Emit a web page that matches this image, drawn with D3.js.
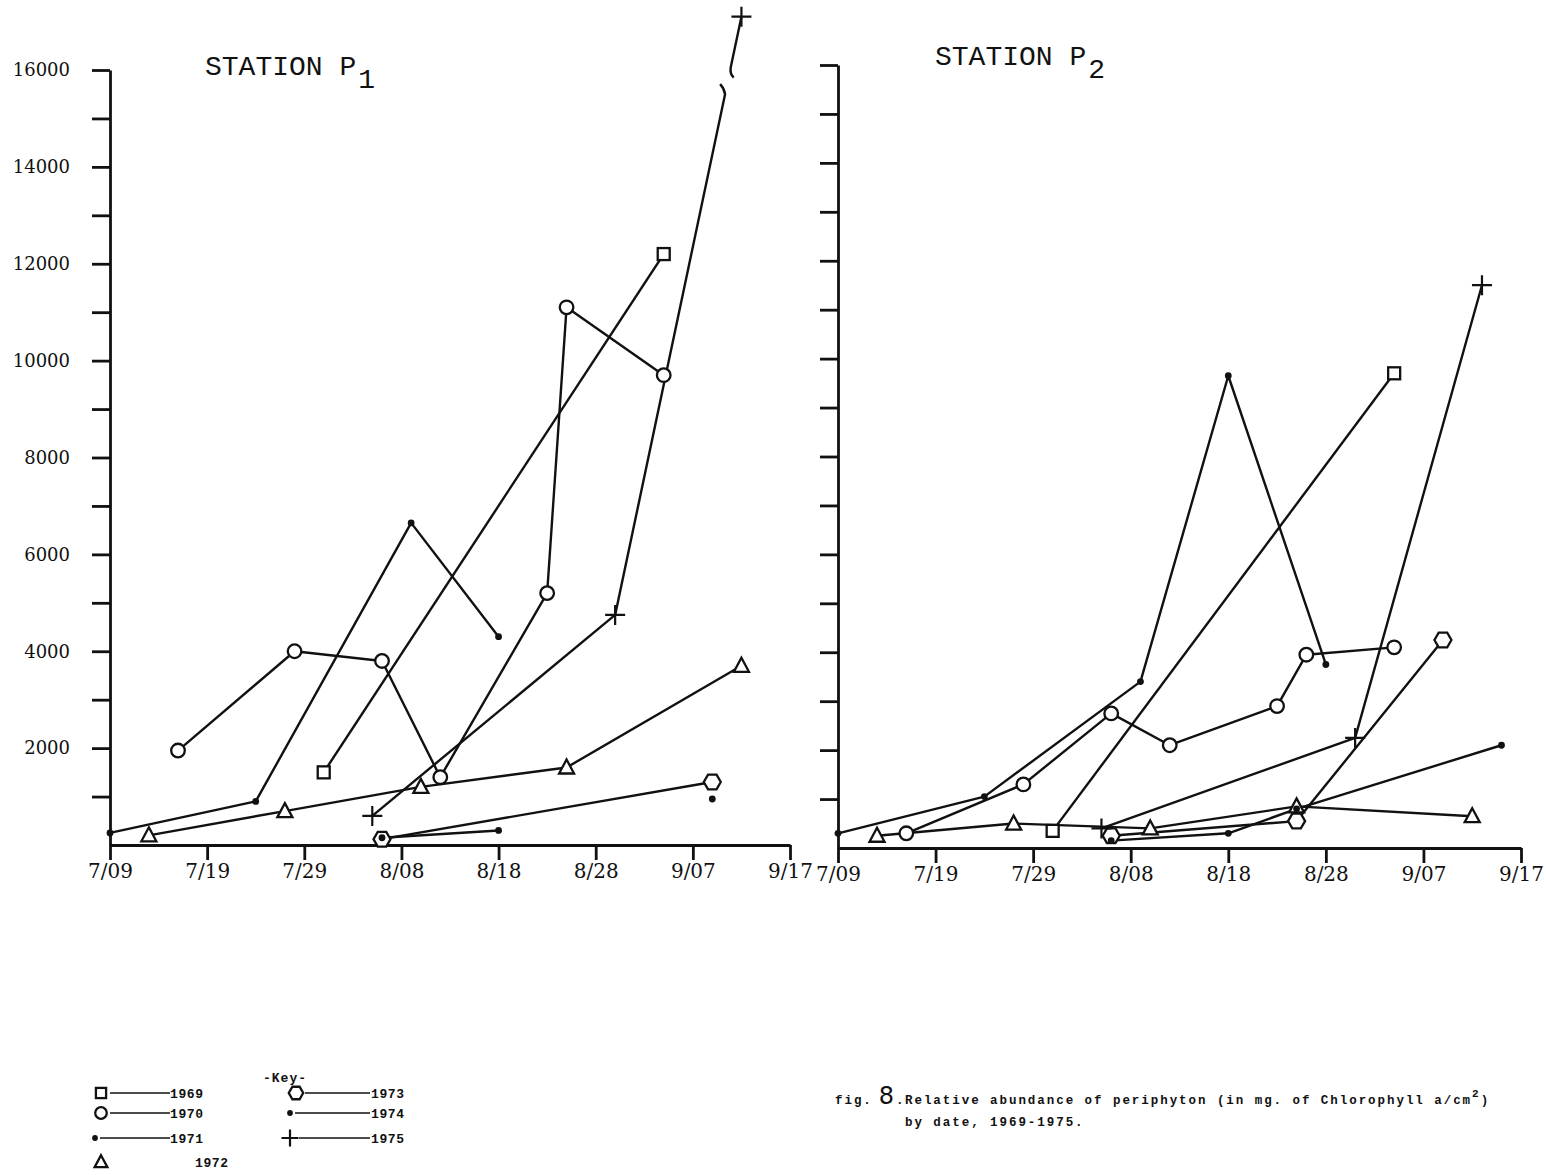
<!DOCTYPE html>
<html>
<head>
<meta charset="utf-8">
<script src="https://cdn.jsdelivr.net/npm/d3@7"></script>
<style>
  body { margin: 0; background: #fff; }
  svg { display: block; }
</style>
</head>
<body>
<svg id="chart" width="1546" height="1175"></svg>
<script>
// Periphyton abundance (mg chlorophyll a / cm^2) by sampling date, 1969-1975.
// Each series is a list of [month/day, value]; null marks a break in the line.

// ---- Station P1 ----
const p1_1969 = [["07/31", 1500], ["09/04", 12200]];
const p1_1970 = [["07/16", 1950], ["07/28", 4000], ["08/06", 3800], ["08/12", 1400],
                 ["08/23", 5200], ["08/25", 11100], ["09/04", 9700]];
const p1_1971 = [["07/09", 250], ["07/24", 900], ["08/09", 6650], ["08/18", 4300]];
const p1_1972 = [["07/13", 200], ["07/27", 700], ["08/10", 1200], ["08/25", 1600], ["09/12", 3700]];
const p1_1973 = [["08/06", 120], ["09/09", 1300]];
const p1_1974 = [["08/06", 150], ["08/18", 300], null, ["09/09", 950]];
const p1_1975 = [["08/05", 600], ["08/30", 4750], ["09/12", 17100]];
// the last 1975 segment runs off the scale; it is drawn with a break between these values
const p1BreakFrom = 15500;
const p1BreakTo = 16050;

// ---- Station P2 ----
const p2_1969 = [["07/31", 350], ["09/04", 9700]];
const p2_1970 = [["07/16", 300], ["07/28", 1300], ["08/06", 2750], ["08/12", 2100],
                 ["08/23", 2900], ["08/26", 3950], ["09/04", 4100]];
const p2_1971 = [["07/09", 300], ["07/24", 1050], ["08/09", 3400], ["08/18", 9650], ["08/28", 3750]];
const p2_1972 = [["07/13", 250], ["07/27", 500], ["08/10", 400], ["08/25", 850], ["09/12", 650]];
const p2_1973 = [["08/06", 250], ["08/25", 550], ["09/09", 4250]];
const p2_1974 = [["08/06", 150], ["08/18", 300], ["08/25", 800], ["09/15", 2100]];
const p2_1975 = [["08/05", 400], ["08/31", 2250], ["09/13", 11500]];

// ---- axes and key ----
const years = ["1969", "1970", "1971", "1972", "1973", "1974", "1975"];
const yearSymbols = ["square", "circle", "dot", "triangle", "hexagon", "dot", "plus"];
const xTickDates = ["07/09", "07/19", "07/29", "08/08", "08/18", "08/28", "09/07", "09/17"];
const xTickLabels = ["7/09", "7/19", "7/29", "8/08", "8/18", "8/28", "9/07", "9/17"];
const yTicks = [1000, 2000, 3000, 4000, 5000, 6000, 7000, 8000,
                9000, 10000, 11000, 12000, 13000, 14000, 15000, 16000];
const yTickLabels = [2000, 4000, 6000, 8000, 10000, 12000, 14000, 16000];
const stationNames = ["1", "2"];

const INK = "#111";
const parseMD = d3.timeParse("%Y/%m/%d");
const toDate = md => parseMD("1970/" + md);

const svg = d3.select("#chart");

const panels = [
  { sub: stationNames[0], left: 110, right: 790, bottom: 845, top: 70, labels: true,
    titleX: 205, titleY: 75,
    series: [p1_1969, p1_1970, p1_1971, p1_1972, p1_1973, p1_1974, p1_1975] },
  { sub: stationNames[1], left: 838, right: 1521, bottom: 848, top: 65, labels: false,
    titleX: 935, titleY: 65,
    series: [p2_1969, p2_1970, p2_1971, p2_1972, p2_1973, p2_1974, p2_1975] }
];

function drawMarker(g, kind, x, y, s = 1) {
  const sw = 2.3;
  if (kind === "square") {
    g.append("rect").attr("x", x - 6 * s).attr("y", y - 6 * s)
      .attr("width", 12 * s).attr("height", 12 * s)
      .attr("fill", "#fff").attr("stroke", INK).attr("stroke-width", sw);
  } else if (kind === "circle") {
    g.append("circle").attr("cx", x).attr("cy", y).attr("r", 6.8 * s)
      .attr("fill", "#fff").attr("stroke", INK).attr("stroke-width", sw);
  } else if (kind === "dot") {
    g.append("circle").attr("cx", x).attr("cy", y).attr("r", 3.4 * s).attr("fill", INK);
  } else if (kind === "triangle") {
    const p = [[x, y - 8 * s], [x + 7.5 * s, y + 6 * s], [x - 7.5 * s, y + 6 * s]];
    g.append("path").attr("d", "M" + p.join("L") + "Z")
      .attr("fill", "#fff").attr("stroke", INK).attr("stroke-width", sw);
  } else if (kind === "hexagon") {
    const r = 8.5 * s;
    const p = d3.range(6).map(i => [x + r * Math.cos(i * Math.PI / 3), y + r * Math.sin(i * Math.PI / 3)]);
    g.append("path").attr("d", "M" + p.join("L") + "Z")
      .attr("fill", "#fff").attr("stroke", INK).attr("stroke-width", sw);
  } else if (kind === "plus") {
    const a = 10 * s;
    g.append("path").attr("d", `M${x - a},${y}H${x + a}M${x},${y - a}V${y + a}`)
      .attr("stroke", INK).attr("stroke-width", 2.2).attr("fill", "none");
  }
}

panels.forEach((P, pi) => {
  const x = d3.scaleTime().domain([toDate("07/09"), toDate("09/17")]).range([P.left, P.right]);
  const y = d3.scaleLinear().domain([0, 16000]).range([P.bottom, P.top]);
  const g = svg.append("g");

  // x axis
  const xAxis = d3.axisBottom(x)
    .tickValues(xTickDates.map(toDate))
    .tickFormat((d, i) => xTickLabels[i])
    .tickSize(15).tickSizeOuter(0).tickPadding(4);
  const gx = g.append("g").attr("transform", `translate(0,${P.bottom})`).call(xAxis);
  gx.attr("font-family", "'DejaVu Serif', serif").attr("font-size", 20);
  gx.selectAll("path, line").attr("stroke", INK).attr("stroke-width", 2.8);
  gx.selectAll("text").attr("fill", INK);

  // y axis
  const yAxis = d3.axisLeft(y)
    .tickValues(yTicks)
    .tickFormat(d => (P.labels && yTickLabels.includes(d)) ? String(d) : "")
    .tickSize(18).tickSizeOuter(0).tickPadding(22);
  const gy = g.append("g").attr("transform", `translate(${P.left},0)`).call(yAxis);
  gy.attr("font-family", "'DejaVu Serif', serif").attr("font-size", 18);
  gy.selectAll("path, line").attr("stroke", INK).attr("stroke-width", 2.8);
  gy.selectAll("text").attr("fill", INK);

  // station title
  const t = g.append("text").attr("x", P.titleX).attr("y", P.titleY)
    .attr("font-family", "'Liberation Mono', monospace").attr("font-size", 28).attr("fill", INK);
  t.append("tspan").text("STATION P");
  t.append("tspan").attr("dx", 2).attr("dy", 13).text(P.sub);

  const line = d3.line()
    .defined(d => d !== null)
    .x(d => x(toDate(d[0])))
    .y(d => y(d[1]));

  const lineG = g.append("g").attr("fill", "none").attr("stroke", INK)
    .attr("stroke-width", 2.4).attr("stroke-linejoin", "round");
  const markG = g.append("g");

  P.series.forEach((data, si) => {
    const broken = pi === 0 && si === 6;
    if (!broken) {
      lineG.append("path").attr("d", line(data));
    } else {
      // draw up to the last point, then a broken segment past the top of the scale
      const head = data.slice(0, data.length - 1);
      lineG.append("path").attr("d", line(head));
      const a = data[data.length - 2], b = data[data.length - 1];
      const ax = x(toDate(a[0])), ay = y(a[1]);
      const bx = x(toDate(b[0])), by = y(b[1]);
      const at = v => {
        const f = (v - a[1]) / (b[1] - a[1]);
        return [ax + f * (bx - ax), ay + f * (by - ay)];
      };
      const lo = at(p1BreakFrom), hi = at(p1BreakTo);
      lineG.append("path")
        .attr("d", `M${ax},${ay}L${lo[0]},${lo[1]}Q${lo[0] - 1},${lo[1] - 6} ${lo[0] - 5},${lo[1] - 10}`);
      lineG.append("path")
        .attr("d", `M${bx},${by}L${hi[0]},${hi[1]}Q${hi[0] - 1},${hi[1] + 6} ${hi[0] + 3},${hi[1] + 10}`);
    }
    data.forEach(d => {
      if (d === null) return;
      drawMarker(markG, yearSymbols[si], x(toDate(d[0])), y(d[1]));
    });
  });
});

// ---- key ----
const key = svg.append("g")
  .attr("font-family", "'Liberation Mono', monospace")
  .attr("font-weight", "bold").attr("font-size", 13).attr("fill", INK);
key.append("text").attr("x", 263).attr("y", 1082).attr("letter-spacing", 1).text("-Key-");

const keyRows = [1093, 1113, 1138, 1162];
years.forEach((yr, i) => {
  const col = i < 4 ? 0 : 1;
  const row = i < 4 ? i : i - 4;
  const cy = keyRows[row];
  const sx = col === 0 ? 101 : 296;
  const kind = yearSymbols[i];
  const gx0 = kind === "dot" ? sx - 6 : (kind === "plus" ? sx - 6 : sx);
  drawMarker(key, kind, gx0, cy, 0.85);
  if (yr !== "1972") {
    key.append("line")
      .attr("x1", gx0 + (kind === "dot" ? 5 : 9)).attr("x2", col === 0 ? 170 : 370)
      .attr("y1", cy).attr("y2", cy)
      .attr("stroke", INK).attr("stroke-width", 1.4);
    key.append("text").attr("x", col === 0 ? 170 : 371).attr("y", cy + 4.5)
      .attr("letter-spacing", 0.6).text(yr);
  } else {
    key.append("text").attr("x", 195).attr("y", cy + 4.5).attr("letter-spacing", 0.6).text(yr);
  }
});

// ---- caption ----
const cap = svg.append("g")
  .attr("font-family", "'Liberation Mono', monospace")
  .attr("font-weight", "bold").attr("font-size", 12.5).attr("fill", INK);
const c1 = cap.append("text").attr("x", 835).attr("y", 1104).attr("letter-spacing", 1.95);
c1.append("tspan").text("fig.");
c1.append("tspan").attr("dx", 6).attr("font-size", 24).attr("font-weight", "normal")
  .attr("font-family", "'DejaVu Sans', sans-serif").text("8");
c1.append("tspan").text(".");
c1.append("tspan").attr("x", 905).text("Relative abundance of periphyton (in mg. of Chlorophyll a/cm");
c1.append("tspan").attr("dy", -7).attr("font-size", 11).text("2");
c1.append("tspan").attr("dy", 7).text(")");
cap.append("text").attr("x", 905).attr("y", 1126).attr("letter-spacing", 1.95)
  .text("by date, 1969-1975.");
</script>
</body>
</html>
